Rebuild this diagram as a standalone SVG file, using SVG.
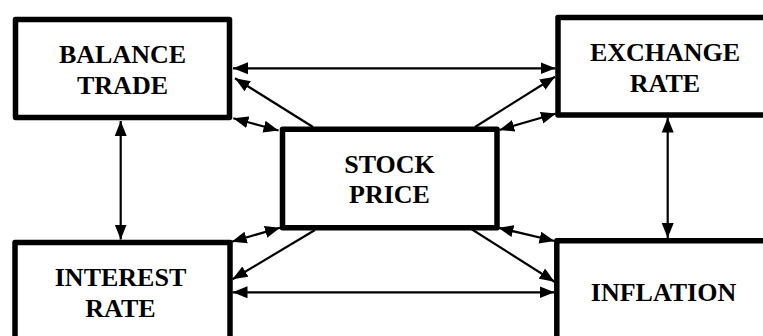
<svg xmlns="http://www.w3.org/2000/svg" width="763" height="336" viewBox="0 0 763 336">
<style>
.box{fill:#fff;stroke:#000;stroke-width:5.5;stroke-linejoin:round}
.lbl{font-family:"Liberation Serif","Times New Roman",serif;font-weight:bold;font-size:26px;text-anchor:middle;fill:#000}
.c{stroke:#000;stroke-width:2.2;fill:none}
.d{marker-start:url(#ah);marker-end:url(#ah)}
.s{marker-end:url(#ah)}
</style>
<defs>
<marker id="ah" markerUnits="userSpaceOnUse" markerWidth="16" markerHeight="13" refX="15" refY="6" orient="auto-start-reverse" viewBox="0 0 16 12">
<path d="M0,0 L15,6 L0,12 z" fill="#000"/>
</marker>
</defs>
<rect width="763" height="336" fill="#fff"/>
<g id="connectors">
<line class="c d" x1="233" y1="68.3" x2="555.5" y2="68.3"/>
<line class="c s" x1="313" y1="127" x2="235" y2="78.3"/>
<line class="c d" x1="233.3" y1="118.3" x2="278.5" y2="130.5"/>
<line class="c s" x1="475" y1="127" x2="555" y2="76.7"/>
<line class="c d" x1="499.3" y1="130" x2="556" y2="113.5"/>
<line class="c d" x1="120.7" y1="121" x2="120.7" y2="239.5"/>
<line class="c d" x1="667.7" y1="117.5" x2="667.7" y2="238"/>
<line class="c d" x1="232.5" y1="292.3" x2="554.5" y2="292.3"/>
<line class="c s" x1="315" y1="230" x2="232.5" y2="279.3"/>
<line class="c d" x1="231.7" y1="241.7" x2="280" y2="227.7"/>
<line class="c s" x1="471.7" y1="229.3" x2="554.5" y2="281.7"/>
<line class="c d" x1="498.3" y1="227.7" x2="554.5" y2="241"/>
</g>
<g id="balance-trade">
<rect class="box" x="15.5" y="19.5" width="214" height="98"/>
<text class="lbl" x="122.5" y="62.7">BALANCE</text>
<text class="lbl" x="122.5" y="94">TRADE</text>
</g>
<g id="exchange-rate">
<rect class="box" x="558" y="17.5" width="214" height="97.5"/>
<text class="lbl" x="665" y="60.7">EXCHANGE</text>
<text class="lbl" x="665" y="91.7">RATE</text>
</g>
<g id="stock-price">
<rect class="box" x="282.5" y="129.2" width="214.5" height="98.5"/>
<text class="lbl" x="389.5" y="172.7">STOCK</text>
<text class="lbl" x="389.5" y="203.3">PRICE</text>
</g>
<g id="interest-rate">
<rect class="box" x="15" y="242.5" width="215" height="98"/>
<text class="lbl" x="120.5" y="285.7">INTEREST</text>
<text class="lbl" x="120.5" y="316.7">RATE</text>
</g>
<g id="inflation">
<rect class="box" x="556.8" y="240.8" width="215" height="98"/>
<text class="lbl" x="663.5" y="300.7">INFLATION</text>
</g>
</svg>
